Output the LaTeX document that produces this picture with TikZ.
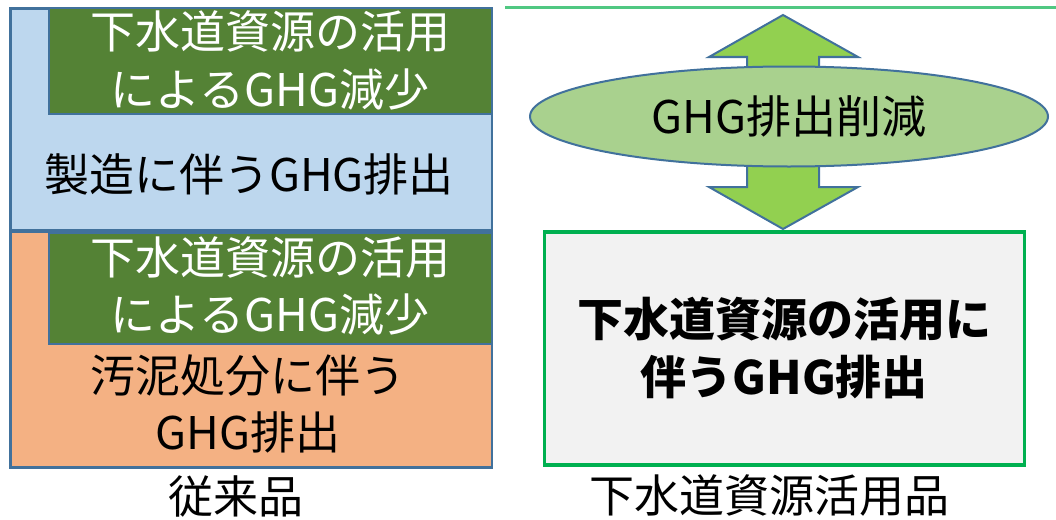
\documentclass[tikz,border=0pt]{standalone}
\usepackage{fontspec}
\newfontfamily\jp{Noto Sans CJK JP}
\usetikzlibrary{shapes.geometric}

\definecolor{bleuclair}{HTML}{BDD7EE}
\definecolor{bordbleu}{HTML}{41719C}
\definecolor{vertfonce}{HTML}{548235}
\definecolor{orange}{HTML}{F4B183}
\definecolor{vertfleche}{HTML}{92D050}
\definecolor{vertellipse}{HTML}{A9D18E}
\definecolor{grisclair}{HTML}{F2F2F2}
\definecolor{vertcadre}{HTML}{00B050}
\definecolor{vertligne}{HTML}{50C882}

\begin{document}
\begin{tikzpicture}[x=1pt,y=-1pt,font=\jp\fontsize{45}{57.5}\selectfont]
\tikzstyle{cadre}=[draw=bordbleu, line width=2.5pt, anchor=north west, inner sep=0pt] % les boites
\tikzstyle{reduc}=[cadre, fill=vertfonce, line width=2pt, minimum width=442.5pt, minimum height=105.5pt]
\tikzstyle{texte}=[align=center, inner sep=0pt]
\useasboundingbox (0,0) rectangle (1056,519);
% produit classique
\node[cadre, fill=bleuclair, minimum width=481.5pt, minimum height=221.5pt] (fabrication) at (9,7.5) {};
\node[cadre, fill=orange, minimum width=481.5pt, minimum height=235.5pt] (boues) at (9,230.5) {};
\node[reduc] (reduc1) at (48,7.5) {};
\node[reduc, minimum height=111pt] (reduc2) at (48,232) {};
\node[texte, text=white] (txtreduc1) at (270,60.5) {下水道資源の活用\\によるGHG減少};
\node[texte, text=white] (txtreduc2) at (270,286) {下水道資源の活用\\によるGHG減少};
\node[texte] (txtfab) at (249,174) {製造に伴うGHG排出};
\node[texte] (txtboues) at (248,404) {汚泥処分に伴う\\GHG排出};
\node[texte] (classique) at (236,496) {従来品};
% produit recycle
\draw[vertligne, line width=2.5pt] (505,7.5) -- (1056,7.5);
\draw[draw=bordbleu, line width=2pt, fill=vertfleche]
  (783,15) -- (858,57) -- (819,57) -- (819,187) -- (858,187) -- (783,229)
  -- (709,187) -- (747,187) -- (747,57) -- (709,57) -- cycle;
\node[ellipse, draw=bordbleu, line width=2pt, fill=vertellipse, minimum width=518pt,
  minimum height=100pt, inner sep=0pt] (baisse) at (789,116.5) {GHG排出削減};
\node[draw=vertcadre, line width=3.5pt, fill=grisclair, minimum width=480pt,
  minimum height=233pt, inner sep=0pt, font=\jp\bfseries\fontsize{46}{58}\selectfont,
  align=center] (recycle) at (784.25,348.25) {下水道資源の活用に\\伴うGHG排出};
\node[texte] (produit) at (769,496) {下水道資源活用品};
\end{tikzpicture}
\end{document}
